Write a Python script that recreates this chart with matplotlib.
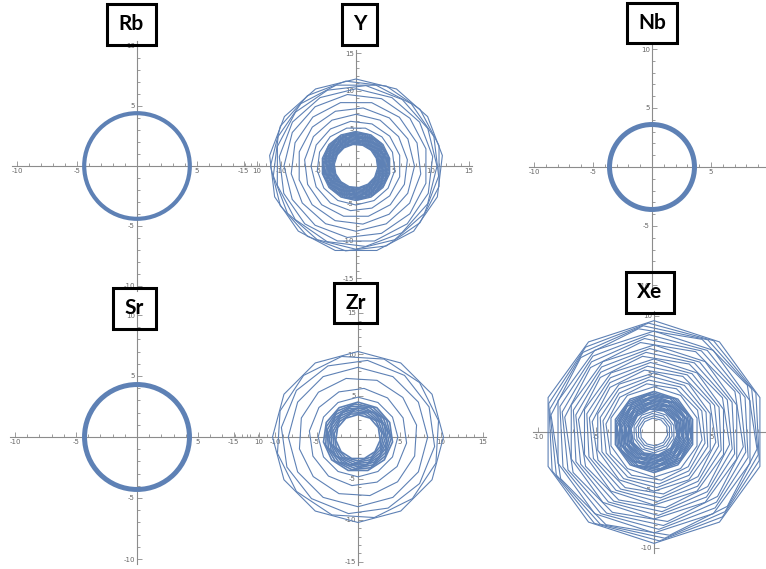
import numpy as np
import matplotlib.pyplot as plt
from matplotlib.patches import Circle, RegularPolygon, Rectangle

W, H = 766, 569
blue = '#5E81B5'
axis_grey = '#8c8c8c'

# orbit radii
rb_r = 4.4
nb_r = 3.6
sr_r = 4.3

y_outer = [11.6, 11.4, 11.1, 10.8, 10.3, 9.6, 8.7, 7.8, 6.9, 6.0, 5.2]
y_dense = [4.6, 4.5, 4.4, 4.3, 4.2, 4.1, 4.0, 3.9, 3.8, 3.7, 3.6, 3.5,
           3.4, 3.3, 3.2, 3.1, 3.0, 2.9]
zr_outer = [10.3, 9.9, 9.3, 8.4, 7.2, 5.9, 4.8]
zr_dense = [4.2, 4.0, 3.8, 3.6, 3.5, 3.3, 3.1, 2.9, 2.7]
xe_outer = [9.6, 9.4, 9.2, 9.0, 8.7, 8.4, 8.1, 7.8, 7.5, 7.2, 6.9, 6.6,
            6.3, 6.0, 5.7, 5.4, 5.1, 4.8, 4.5, 4.2, 3.9]
xe_dense = [3.5, 3.4, 3.3, 3.2, 3.1, 3.0, 2.9, 2.8, 2.7, 2.6, 2.5, 2.4,
            2.3, 2.2, 2.1, 2.0]
xe_inner = [1.8, 1.6, 1.4, 1.2]

fig = plt.figure(figsize=(W/100, H/100), dpi=100)


def panel(ox, oy, s, lim, xmax=None):
    # ox, oy = origin in pixels, s = pixels per unit
    ext = lim + 0.4
    ax = fig.add_axes([(ox - ext*s)/W, 1 - (oy + ext*s)/H,
                       2*ext*s/W, 2*ext*s/H])
    ax.patch.set_visible(False)
    ax.set_xlim(-ext, ext)
    ax.set_ylim(-ext, ext)
    for sp in ['top', 'right']:
        ax.spines[sp].set_visible(False)
    for sp in ['left', 'bottom']:
        ax.spines[sp].set_position(('data', 0))
        ax.spines[sp].set_color(axis_grey)
        ax.spines[sp].set_linewidth(0.8)
    major = [v for v in range(-lim, lim + 1, 5) if v != 0]
    minor = [v for v in range(-lim, lim + 1) if v % 5 != 0]
    xmajor = [v for v in major if xmax is None or v <= xmax]
    ax.set_xticks(xmajor)
    ax.set_yticks(major)
    ax.set_xticks(minor, minor=True)
    ax.set_yticks(minor, minor=True)
    ax.set_xticklabels([str(v) for v in xmajor])
    ax.set_yticklabels([str(v) for v in major])
    ax.tick_params(which='both', direction='in', color=axis_grey, width=0.6,
                   labelsize=5, labelcolor='#666666', pad=1.5)
    ax.tick_params(which='major', length=3.5)
    ax.tick_params(which='minor', length=2)
    return ax


def rings(ax, radii, n, step, cycle, lw=0.8):
    for i, r in enumerate(radii):
        ax.add_patch(RegularPolygon((0, 0), numVertices=n, radius=r,
                                    orientation=(i % cycle)*step, fill=False,
                                    ec=blue, lw=lw, zorder=3))


def label(cx, cy, w, h, name):
    fig.patches.append(Rectangle(((cx - w/2)/W, 1 - (cy + h/2)/H), w/W, h/H,
                                 transform=fig.transFigure, fc='none',
                                 ec='black', lw=2.2, zorder=5))
    fig.text(cx/W, 1 - cy/H, name, ha='center', va='center', fontsize=15,
             fontweight='bold', family=['Lato', 'DejaVu Sans'], zorder=6)


ax = panel(137, 166, 12.0, 10)
ax.add_patch(Circle((0, 0), rb_r, fill=False, ec=blue, lw=3, zorder=3))

ax = panel(356, 166, 7.5, 15)
rings(ax, y_outer, 13, 0.12, 4)
rings(ax, y_dense, 14, 0.07, 5, lw=1.0)

ax = panel(652, 167, 11.8, 10, xmax=5)
ax.add_patch(Circle((0, 0), nb_r, fill=False, ec=blue, lw=3.6, zorder=3))

ax = panel(137, 437, 12.2, 10)
ax.add_patch(Circle((0, 0), sr_r, fill=False, ec=blue, lw=3.6, zorder=3))

ax = panel(358, 437, 8.3, 15)
rings(ax, zr_outer, 12, 0.2, 3)
rings(ax, zr_dense, 11, 0.1, 4, lw=1.2)

ax = panel(654, 432, 11.6, 10, xmax=5)
rings(ax, xe_outer, 10, 0.05, 4)
rings(ax, xe_dense, 10, 0.06, 4, lw=1.1)
rings(ax, xe_inner, 10, 0.1, 2)

label(131.5, 24.5, 49, 41, 'Rb')
label(359.5, 24.5, 35, 41, 'Y')
label(652, 23, 50, 40, 'Nb')
label(134.5, 308.5, 43, 41, 'Sr')
label(355.5, 303, 43, 40, 'Zr')
label(650, 292.5, 48, 41, 'Xe')

fig.savefig('out.png', dpi=100)
